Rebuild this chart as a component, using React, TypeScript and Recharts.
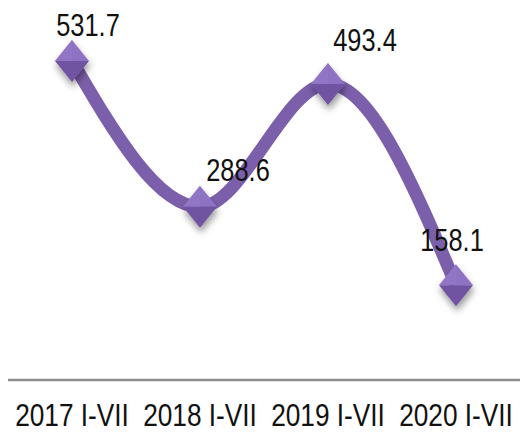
import { LineChart, Line, XAxis, YAxis } from 'recharts';

const periods = ['2017 I-VII', '2018 I-VII', '2019 I-VII', '2020 I-VII'];
const values = [531.7, 288.6, 493.4, 158.1];

const data = periods.map((p, i) => ({ period: p, value: values[i] }));

// label nudges relative to each marker (dx, baseline dy)
const labelShift = [
  { dx: 16, dy: -25 },
  { dx: 38, dy: -26 },
  { dx: 37, dy: -33 },
  { dx: -4, dy: -34 },
];

const FONT = '"Liberation Sans", Arial, sans-serif';
const SQUEEZE = 0.82; // no narrow font installed, so squeeze horizontally

const Diamond = (props: any) => {
  const { cx, cy, index } = props;
  if (cx == null || cy == null) return null;
  const w = 17;
  const h = 21;
  return (
    <g key={`d-${index}`} filter="url(#dotShadow)">
      <path d={`M${cx - w},${cy} L${cx},${cy - h} L${cx + w},${cy} Z`} fill="#8E72C4" />
      <path d={`M${cx - w},${cy} L${cx},${cy + h} L${cx + w},${cy} Z`} fill="#6F52A1" />
      <path d={`M${cx - w},${cy} L${cx},${cy - h} L${cx},${cy} Z`} fill="#9479C8" opacity={0.6} />
    </g>
  );
};

const ValueLabel = (props: any) => {
  const { x, y, value, index } = props;
  const s = labelShift[index] || { dx: 0, dy: -25 };
  return (
    <g transform={`translate(${x + s.dx},${y + s.dy}) scale(${SQUEEZE},1)`}>
      <text x={0} y={0} textAnchor="middle" fontFamily={FONT} fontSize={31} fill="#111">
        {value}
      </text>
    </g>
  );
};

const PeriodTick = (props: any) => {
  const { x, y, payload } = props;
  return (
    <g transform={`translate(${x},${y}) scale(${SQUEEZE},1)`}>
      <text x={0} y={0} dy={24} textAnchor="middle" fontFamily={FONT} fontSize={32} fill="#111">
        {payload.value}
      </text>
    </g>
  );
};

export default function App() {
  return (
    <div style={{ position: 'absolute', left: 0, top: 0, background: '#fff' }}>
      <LineChart
        width={520}
        height={434}
        data={data}
        margin={{ top: 20, right: 0, left: 8, bottom: 0 }}
      >
        <defs>
          <filter id="dotShadow" x="-50%" y="-50%" width="200%" height="200%">
            <feDropShadow dx="1" dy="5" stdDeviation="3.5" floodColor="#000" floodOpacity="0.4" />
          </filter>
        </defs>
        <XAxis
          dataKey="period"
          height={54}
          padding={{ left: 64, right: 64 }}
          axisLine={{ stroke: '#8c8c8c', strokeWidth: 2.5 }}
          tickLine={false}
          tickSize={0}
          tickMargin={22}
          interval={0}
          tick={<PeriodTick />}
        />
        <YAxis hide domain={[0, 600]} />
        <Line
          type="monotone"
          dataKey="value"
          stroke="#7C5FAA"
          strokeWidth={13}
          strokeLinecap="butt"
          dot={<Diamond />}
          activeDot={false}
          label={<ValueLabel />}
          isAnimationActive={false}
        />
      </LineChart>
    </div>
  );
}
